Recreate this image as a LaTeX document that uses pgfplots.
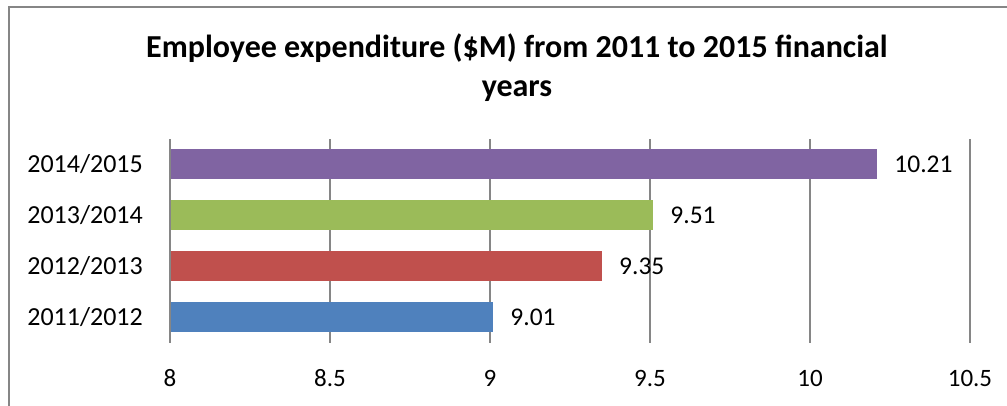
\documentclass[border=0pt]{standalone}
\usepackage{pgfplots}
\pgfplotsset{compat=1.18}
\usepackage{fontspec}
\setmainfont{Carlito}
\definecolor{cpurple}{HTML}{8064A2}
\definecolor{cgreen}{HTML}{9BBB59}
\definecolor{cred}{HTML}{C0504D}
\definecolor{cblue}{HTML}{4F81BD}
\definecolor{cgrid}{HTML}{868686}
\begin{document}
\begin{tikzpicture}
\begin{axis}[
  scale only axis,
  width=800pt, height=204pt,
  xbar, bar width=30pt, bar shift=0pt,
  xmin=8, xmax=10.5,
  ymin=-0.5, ymax=3.5,
  xtick={8,8.5,9,9.5,10,10.5},
  xticklabels={8,8.5,9,9.5,10,10.5},
  ytick={0,1,2,3},
  yticklabels={2011/2012,2012/2013,2013/2014,2014/2015},
  axis line style={draw=none},
  major tick length=0pt,
  xmajorgrids, grid style={cgrid, line width=1.2pt},
  xticklabel style={anchor=base, yshift=-44pt, inner sep=0pt, font=\fontsize{25}{30}\selectfont, text=black},
  yticklabel style={anchor=east, inner sep=0pt, xshift=-27pt, font=\fontsize{26}{31}\selectfont, text=black},
  /pgf/number format/assume math mode=true,
  point meta=x,
  nodes near coords={\fontsize{25.5}{30}\selectfont\pgfmathprintnumber[fixed,precision=2,zerofill,assume math mode=true]{\pgfplotspointmeta}},
  nodes near coords style={anchor=west, xshift=17pt, inner sep=0pt, text=black},
]
\addplot[fill=cblue, draw=none] coordinates {(9.01,0)};
\addplot[fill=cred, draw=none] coordinates {(9.35,1)};
\addplot[fill=cgreen, draw=none] coordinates {(9.51,2)};
\addplot[fill=cpurple, draw=none] coordinates {(10.21,3)};
\draw[cgrid, line width=1.2pt] (axis cs:8,-0.5) -- (axis cs:8,3.5);
\end{axis}
\node[anchor=base, inner sep=0pt, font=\fontsize{32}{38}\selectfont\bfseries] at (347pt,285pt) {Employee expenditure (\$M) from 2011 to 2015 financial};
\node[anchor=base, inner sep=0pt, font=\fontsize{32}{38}\selectfont\bfseries] at (347pt,246pt) {years};
\draw[cgrid, line width=2pt] (-161pt,-120pt) -- (-161pt,336pt) -- (900pt,336pt);
\pgfresetboundingbox
\path[use as bounding box] (-170pt,-63pt) rectangle (837pt,343pt);
\end{tikzpicture}
\end{document}
